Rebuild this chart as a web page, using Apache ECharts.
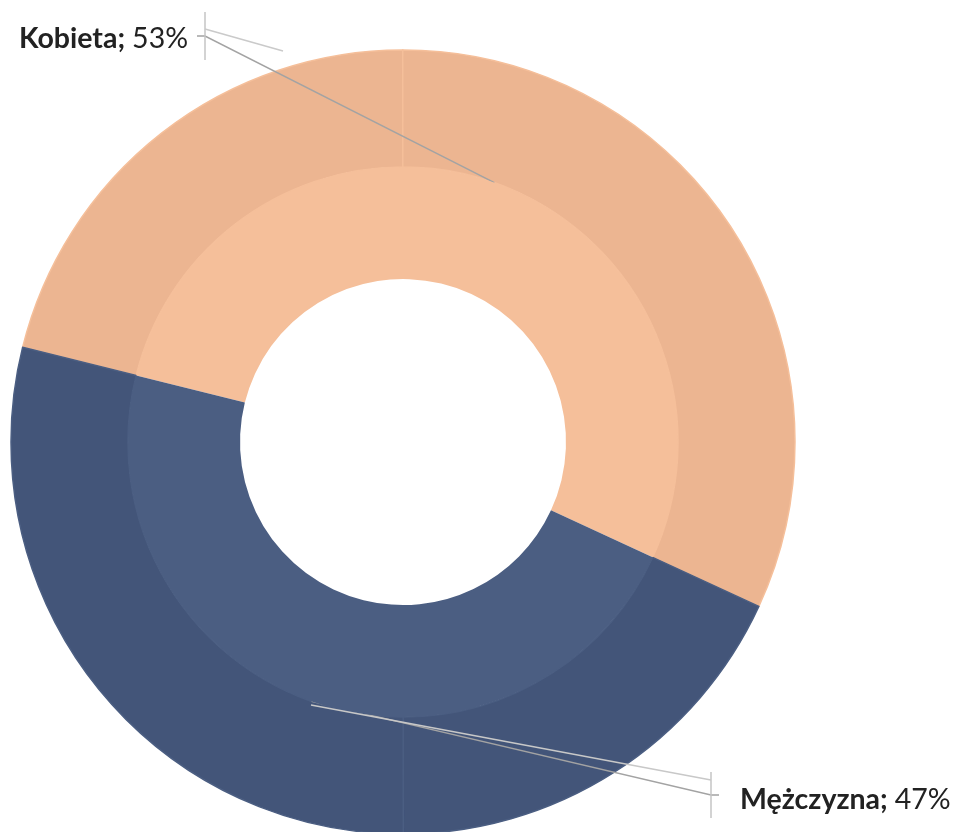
<!DOCTYPE html>
<html lang="pl">
<head>
  <meta charset="UTF-8">
  <title>Płeć</title>
  <script src="https://cdn.jsdelivr.net/npm/echarts@6/dist/echarts.min.js"></script>
  <style>
    html, body { margin: 0; padding: 0; background: #fff; }
    #chart { width: 960px; height: 832px; }
  </style>
</head>
<body>
  <div id="chart"></div>
  <script>
    // inner ring: share per gender (%)
    const categories = ['Kobieta', 'Mężczyzna'];
    const shares = [53, 47];
    // outer ring is drawn split at top and bottom, same totals
    const outerNames = ['Kobieta', 'Kobieta', 'Mężczyzna', 'Mężczyzna'];
    const outerValues = [21.1, 31.9, 18.1, 28.9];

    const innerColors = ['#F5BF9A', '#4B5E82'];
    const outerColors = ['#ECB591', '#435579'];

    const chart = echarts.init(document.getElementById('chart'));

    // where each label sits (text anchor) and where its leader bends
    const labelSpots = [
      { x: 188, y: 39, align: 'right', bend: [205, 36], end: [197, 36] },
      { x: 740, y: 800, align: 'left', bend: [711, 795], end: [719, 795] }
    ];

    const option = {
      animation: false,
      textStyle: { fontFamily: 'Lato' },
      graphic: [
        { type: 'line', shape: { x1: 205, y1: 12, x2: 205, y2: 60 }, style: { stroke: '#c4c4c4', lineWidth: 1.5 }, z: 10 },
        { type: 'line', shape: { x1: 205, y1: 29, x2: 283, y2: 51 }, style: { stroke: '#cacaca', lineWidth: 1.5 }, z: 10 },
        { type: 'line', shape: { x1: 711, y1: 772, x2: 711, y2: 818 }, style: { stroke: '#c4c4c4', lineWidth: 1.5 }, z: 10 },
        { type: 'line', shape: { x1: 311, y1: 705, x2: 711, y2: 780 }, style: { stroke: '#c8c8c8', lineWidth: 1.5 }, z: 10 }
      ],
      series: [
        {
          type: 'pie',
          center: [403, 442],
          radius: [275, 392],
          startAngle: 166,
          silent: true,
          label: { show: false },
          labelLine: { show: false },
          data: outerValues.map((v, i) => ({
            name: outerNames[i],
            value: v,
            itemStyle: {
              color: outerColors[i < 2 ? 0 : 1],
              borderColor: innerColors[i < 2 ? 0 : 1],
              borderWidth: 1.5
            }
          }))
        },
        {
          type: 'pie',
          center: [403, 442],
          radius: [163, 275],
          startAngle: 166,
          silent: true,
          z: 3,
          label: {
            show: true,
            formatter: p => '{b|' + p.name + ';}{s| }{v|' + p.value + '%}',
            rich: {
              b: { fontFamily: 'Lato', fontWeight: 'bold', fontSize: 28.5, color: '#222' },
              s: { width: 7 },
              v: { fontFamily: 'Lato', fontSize: 28.5, color: '#222' }
            }
          },
          labelLine: {
            show: true,
            lineStyle: { color: '#a3a3a3', width: 1.5 }
          },
          labelLayout: function (params) {
            const s = labelSpots[params.dataIndex];
            const start = params.labelLinePoints ? params.labelLinePoints[0] : s.bend;
            return {
              x: s.x,
              y: s.y,
              align: s.align,
              verticalAlign: 'middle',
              labelLinePoints: [start, s.bend, s.end]
            };
          },
          data: categories.map((c, i) => ({
            name: c,
            value: shares[i],
            itemStyle: { color: innerColors[i] }
          }))
        }
      ]
    };

    chart.setOption(option);
  </script>
</body>
</html>
